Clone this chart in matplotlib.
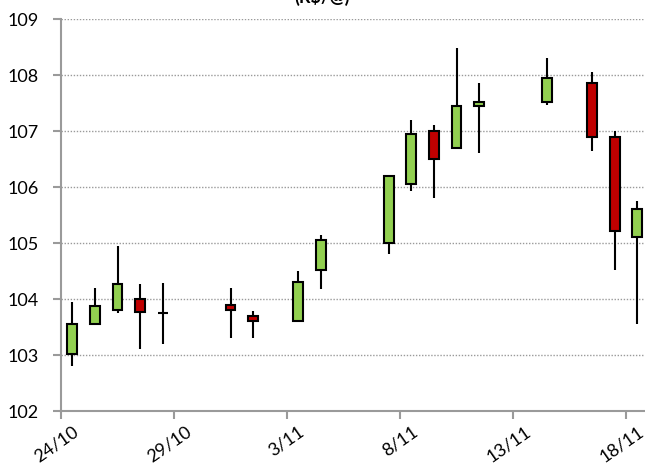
import matplotlib.pyplot as plt
import matplotlib.dates as mdates
import matplotlib.transforms as mtransforms
import pandas as pd
import numpy as np

plt.rcParams['font.family'] = ['Lato', 'DejaVu Sans']

# pregões (dd/mm/2011)
dates = ['24/10', '25/10', '26/10', '27/10', '28/10', '31/10', '1/11', '3/11', '4/11',
         '7/11', '8/11', '9/11', '10/11', '11/11', '14/11', '16/11', '17/11', '18/11']
opens = [103.02, 103.55, 103.80, 104.00, 103.75, 103.90, 103.70, 103.60, 104.51,
         105.00, 106.06, 107.00, 106.70, 107.45, 107.52, 107.85, 106.90, 105.10]
highs = [103.95, 104.20, 104.95, 104.26, 104.29, 104.19, 103.78, 104.50, 105.14,
         106.20, 107.19, 107.10, 108.49, 107.85, 108.30, 108.05, 107.00, 105.75]
lows = [102.80, 103.54, 103.75, 103.11, 103.20, 103.30, 103.30, 103.60, 104.17,
        104.80, 105.92, 105.80, 106.69, 106.61, 107.46, 106.64, 104.51, 103.56]
closes = [103.55, 103.87, 104.26, 103.76, 103.75, 103.80, 103.60, 104.30, 105.05,
          106.20, 106.95, 106.50, 107.45, 107.51, 107.95, 106.90, 105.22, 105.60]

tick_labels = ['24/10', '29/10', '3/11', '8/11', '13/11', '18/11']

green = '#92d050'
red = '#c00000'
gray = '#9a9a9a'

d = pd.to_datetime([s + '/2011' for s in dates], format='%d/%m/%Y')
x = mdates.date2num(d) + 0.5
o = np.array(opens)
c = np.array(closes)
cores = [green if cc > oo else red for oo, cc in zip(o, c)]

fig = plt.figure(figsize=(6.45, 4.68), dpi=100)
ax = fig.add_axes([61 / 645, 57 / 468, 587.6 / 645, 392 / 468])

# pavios
ax.vlines(x, lows, highs, color='black', linewidth=1.5, zorder=2)
# corpos
ax.bar(x, np.abs(c - o), bottom=np.minimum(o, c), width=0.44, color=cores,
       edgecolor='black', linewidth=1.5, zorder=3)

x0 = mdates.date2num(pd.Timestamp('2011-10-24'))
ax.set_xlim(x0, x0 + 26)
ax.set_ylim(102, 109)
ax.set_yticks(range(102, 110))
ax.set_xticks([x0 + 5 * i for i in range(len(tick_labels))])
ax.set_xticklabels(tick_labels)

ax.grid(axis='y', color=gray, linestyle=(0, (1, 1.2)), linewidth=1.0, zorder=0)
for s in ['top', 'right']:
    ax.spines[s].set_visible(False)
for s in ['left', 'bottom']:
    ax.spines[s].set_color(gray)
    ax.spines[s].set_linewidth(1.5)

ax.tick_params(axis='y', length=6, width=1.5, color=gray, labelsize=13, pad=10)
ax.tick_params(axis='x', length=6, width=1.5, color=gray, labelsize=13, pad=3)

offset = mtransforms.ScaledTranslation(8 / 72, 0, fig.dpi_scale_trans)
for lbl in ax.get_xticklabels():
    lbl.set_rotation(35)
    lbl.set_ha('right')
    lbl.set_va('top')
    lbl.set_rotation_mode('anchor')
    lbl.set_transform(lbl.get_transform() + offset)

fig.text(0.5, 1 - 3 / 468, '(R$/@)', ha='center', va='baseline',
         fontsize=13, fontweight='bold')

fig.savefig('out.png', dpi=100)
